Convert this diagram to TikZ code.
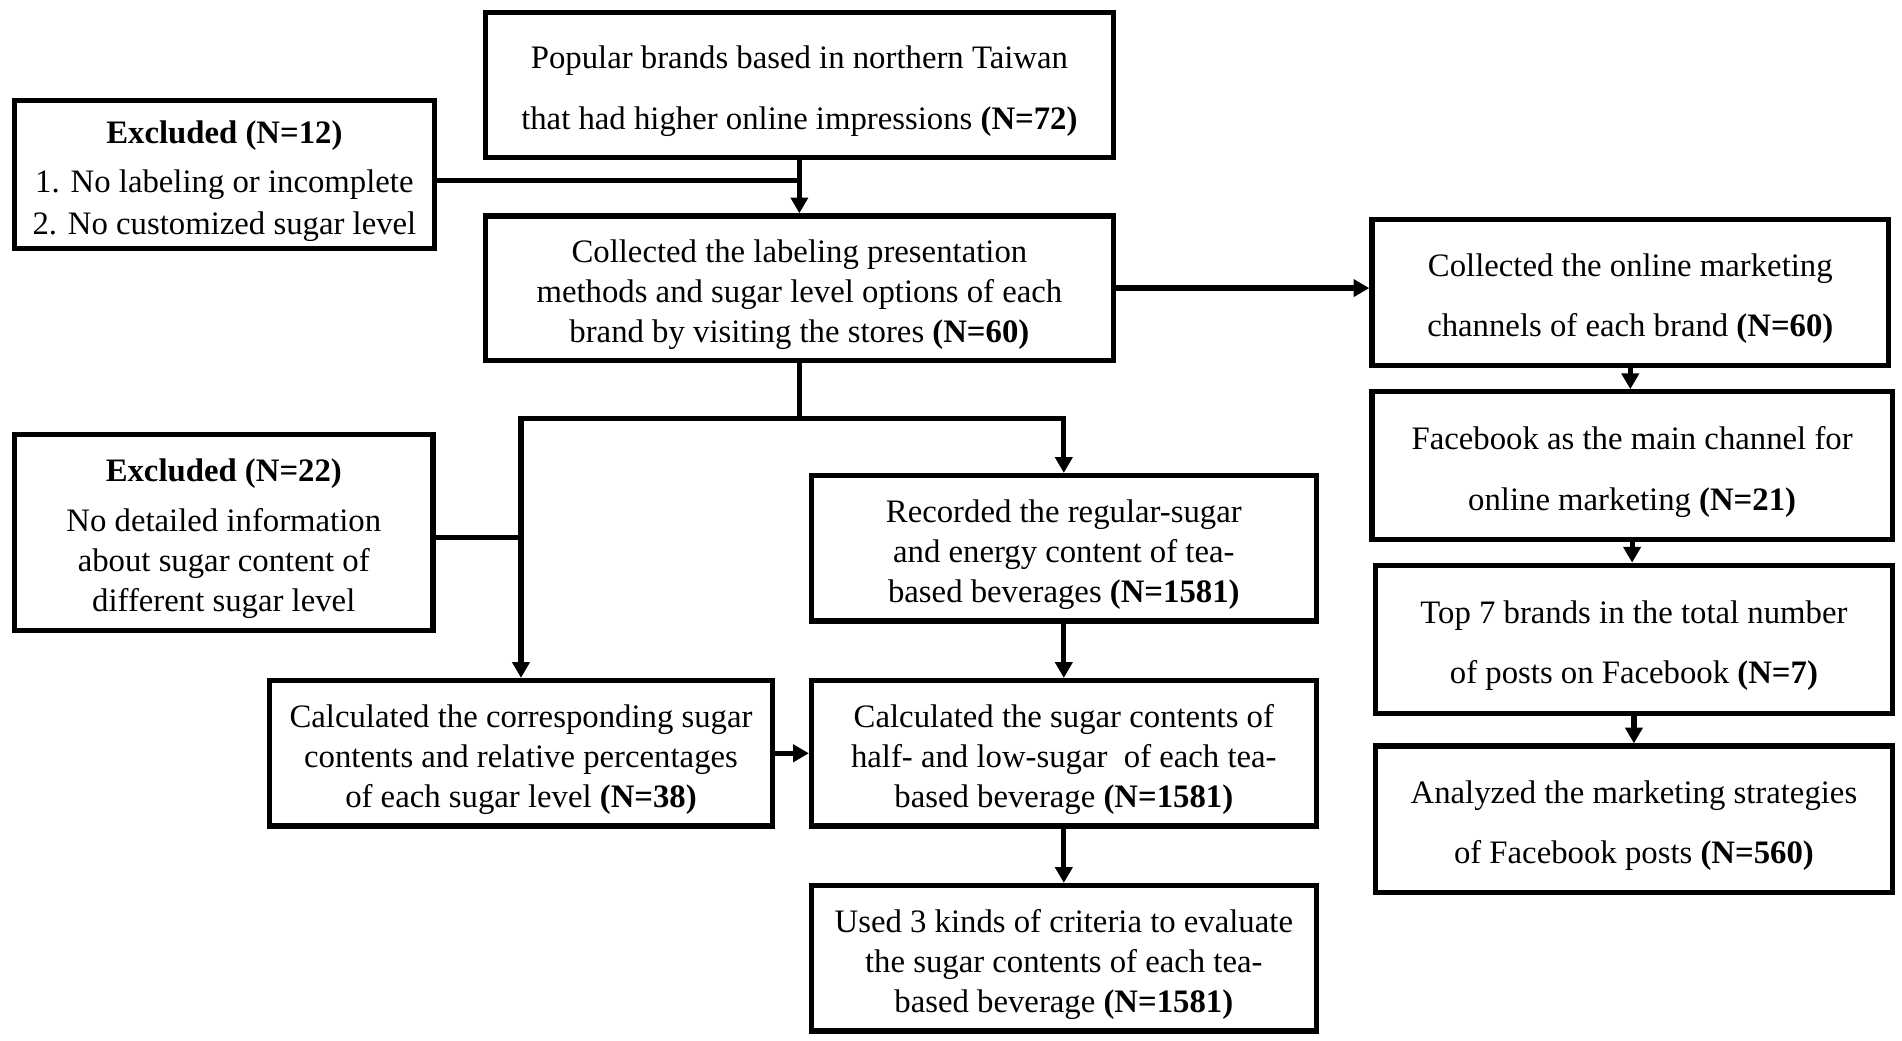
\documentclass[tikz,border=0pt]{standalone}
\usepackage{fontspec}
\setmainfont{Liberation Serif}
\usetikzlibrary{arrows.meta,calc}
\newcommand{\tstr}{\rule{0pt}{29pt}}
\begin{document}
\begin{tikzpicture}[x=1pt,y=-1pt,
  box/.style={draw,line width=4.3pt,inner sep=0pt,align=center,font=\fontsize{27}{33}\selectfont},
  two/.style={font=\fontsize{27}{50}\selectfont},
  exc/.style={font=\fontsize{27}{34}\selectfont},
  ln/.style={line width=4.3pt},
  arr/.style={line width=4.3pt,-{Triangle[length=13pt,width=14pt]}}]
\useasboundingbox (0,0) rectangle (1568,858);
\node[box,two,minimum width=518pt,minimum height=120pt] (A) at (659,70)
  {\tstr Popular brands based in northern Taiwan\\ that had higher online impressions \textbf{(N=72)}};
\node[box,exc,minimum width=346pt,minimum height=122pt] (Ex1) at (185,144)
  {\tstr\textbf{Excluded (N=12)}\\[7pt] 1. No labeling or incomplete\\ 2. No customized sugar level};
\node[box,minimum width=518pt,minimum height=119pt] (B) at (659,237.5)
  {\tstr Collected the labeling presentation\\ methods and sugar level options of each\\ brand by visiting the stores \textbf{(N=60)}};
\node[box,two,minimum width=426pt,minimum height=120pt] (C) at (1344,241)
  {\tstr Collected the online marketing\\ channels of each brand \textbf{(N=60)}};
\node[box,two,minimum width=429pt,minimum height=122pt] (D) at (1345.5,384)
  {\tstr Facebook as the main channel for\\ online marketing \textbf{(N=21)}};
\node[box,two,minimum width=426pt,minimum height=122pt] (E) at (1347,527)
  {\tstr Top 7 brands in the total number\\ of posts on Facebook \textbf{(N=7)}};
\node[box,two,minimum width=426pt,minimum height=121pt] (F) at (1347,675.5)
  {\tstr Analyzed the marketing strategies\\ of Facebook posts \textbf{(N=560)}};
\node[box,minimum width=345pt,minimum height=162pt] (Ex2) at (184.5,439)
  {\tstr\textbf{Excluded (N=22)}\\[8pt] No detailed information\\ about sugar content of\\ different sugar level};
\node[box,minimum width=416pt,minimum height=120pt] (G) at (877,452)
  {\tstr Recorded the regular-sugar\\ and energy content of tea-\\ based beverages \textbf{(N=1581)}};
\node[box,minimum width=415pt,minimum height=120pt] (H) at (429.5,621)
  {\tstr Calculated the corresponding sugar\\ contents and relative percentages\\ of each sugar level \textbf{(N=38)}};
\node[box,minimum width=416pt,minimum height=120pt] (I) at (877,621)
  {\tstr Calculated the sugar contents of\\ half- and low-sugar\ \ of each tea-\\ based beverage \textbf{(N=1581)}};
\node[box,minimum width=416pt,minimum height=120pt] (J) at (877,790)
  {\tstr Used 3 kinds of criteria to evaluate\\ the sugar contents of each tea-\\ based beverage \textbf{(N=1581)}};
\coordinate (e1) at (0,149);
\coordinate (lvl) at (0,345);
\coordinate (e2) at (0,443);
\draw[ln] (Ex1.east |- e1) -- (A.south |- e1);
\draw[arr] (A.south) -- (B.north);
\draw[arr] (B.east) -- (B.east -| C.west);
\draw[arr] (C.south) -- (C.south |- D.north);
\draw[arr] (D.south) -- (D.south |- E.north);
\draw[arr] (E.south) -- (E.south |- F.north);
\draw[ln] (B.south) -- (B.south |- lvl);
\draw[arr] (B.south |- lvl) -| (G.north);
\draw[arr] (B.south |- lvl) -| (H.north);
\draw[ln] (Ex2.east |- e2) -- (H.north |- e2);
\draw[arr] (G.south) -- (I.north);
\draw[arr] (H.east) -- (I.west);
\draw[arr] (I.south) -- (J.north);
\end{tikzpicture}
\end{document}
